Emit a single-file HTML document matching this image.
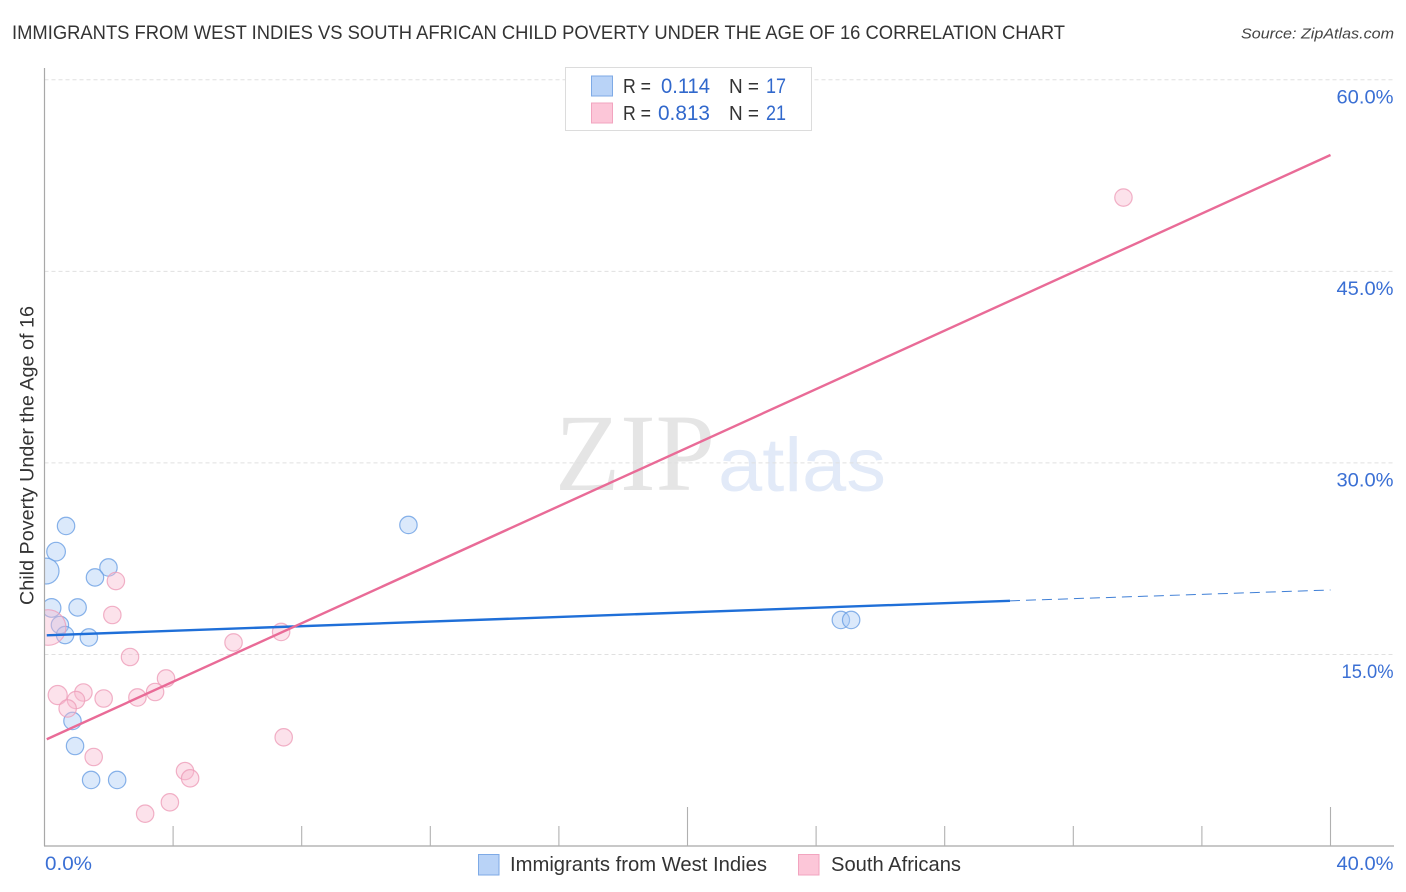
<!DOCTYPE html>
<html lang="en">
<head>
<meta charset="utf-8">
<title>Immigrants from West Indies vs South African Child Poverty Correlation Chart</title>
<style>
html,body{margin:0;padding:0;background:#fff;width:1406px;height:892px;overflow:hidden}
svg{display:block;font-family:"Liberation Sans",sans-serif}
</style>
</head>
<body>
<svg id="chart" width="1406" height="892" viewBox="0 0 1406 892" xmlns="http://www.w3.org/2000/svg">
  <rect width="1406" height="892" fill="#fff"/>
  <text x="12" y="39" font-size="19.5" fill="#333" textLength="1053" lengthAdjust="spacingAndGlyphs">IMMIGRANTS FROM WEST INDIES VS SOUTH AFRICAN CHILD POVERTY UNDER THE AGE OF 16 CORRELATION CHART</text>
  <text x="1394" y="38.5" font-size="15" font-style="italic" fill="#444" text-anchor="end" textLength="153" lengthAdjust="spacingAndGlyphs">Source: ZipAtlas.com</text>

  <g>
    <text x="555" y="490" font-family="'Liberation Serif',serif" font-size="110" fill="#e5e5e5" textLength="160" lengthAdjust="spacingAndGlyphs">ZIP</text>
    <text x="718" y="491" font-size="76" fill="#e2eaf8" textLength="168" lengthAdjust="spacingAndGlyphs">atlas</text>
  </g>

  <g id="grid"></g>
  <g id="points-blue"></g>
  <g id="points-pink"></g>
  <rect x="0" y="60" width="44.5" height="786" fill="#fff"/>
  <g id="axes"></g>
  <g id="trends"></g>

  <text transform="translate(33.5 605) rotate(-90)" font-size="19" fill="#333" textLength="299" lengthAdjust="spacingAndGlyphs">Child Poverty Under the Age of 16</text>

  <g>
    <rect x="565.5" y="67.5" width="246" height="63" fill="#fff" stroke="#dcdcdc"/>
    <rect x="591.5" y="76" width="21" height="20" fill="#b9d3f7" stroke="#7eaae6"/>
    <rect x="591.5" y="103" width="21" height="20" fill="#fcc6d8" stroke="#f2a4bf"/>
    <text x="623" y="93" font-size="20" fill="#333" textLength="28" lengthAdjust="spacingAndGlyphs">R =</text>
    <text x="661" y="93" font-size="21.5" fill="#3168cc" textLength="49" lengthAdjust="spacingAndGlyphs">0.114</text>
    <text x="729" y="93" font-size="20" fill="#333" textLength="30" lengthAdjust="spacingAndGlyphs">N =</text>
    <text x="766" y="93" font-size="21.5" fill="#3168cc" textLength="20" lengthAdjust="spacingAndGlyphs">17</text>
    <text x="623" y="120" font-size="20" fill="#333" textLength="28" lengthAdjust="spacingAndGlyphs">R =</text>
    <text x="658" y="120" font-size="21.5" fill="#3168cc" textLength="52" lengthAdjust="spacingAndGlyphs">0.813</text>
    <text x="729" y="120" font-size="20" fill="#333" textLength="30" lengthAdjust="spacingAndGlyphs">N =</text>
    <text x="766" y="120" font-size="21.5" fill="#3168cc" textLength="20" lengthAdjust="spacingAndGlyphs">21</text>
  </g>

  <g>
    <rect x="478.5" y="854.5" width="20.5" height="20.5" fill="#b9d3f7" stroke="#7eaae6"/>
    <text x="510" y="871" font-size="20" fill="#333" textLength="257" lengthAdjust="spacingAndGlyphs">Immigrants from West Indies</text>
    <rect x="798.5" y="854.5" width="20.5" height="20.5" fill="#fcc6d8" stroke="#f2a4bf"/>
    <text x="831" y="871" font-size="20" fill="#333" textLength="130" lengthAdjust="spacingAndGlyphs">South Africans</text>
  </g>
</svg>
<script>
const yTickValues = [15, 30, 45, 60];
const yTickLabels = ["15.0%", "30.0%", "45.0%", "60.0%"];
const xTickValues = [4, 8, 12, 16, 20, 24, 28, 32, 36, 40];
const xMajorTicks = [20, 40];
const xEndValues = [0, 40];
const xEndLabels = ["0.0%", "40.0%"];

const blueX = [0.67, 0.36, 0.05, 1.99, 1.57, 1.03, 0.22, 0.48, 0.64, 1.38, 0.87, 0.95, 1.45, 2.26, 11.32, 24.77, 25.09];
const blueY = [25.06, 23.05, 21.53, 21.81, 21.03, 18.68, 18.64, 17.31, 16.52, 16.33, 9.79, 7.83, 5.17, 5.17, 25.14, 17.70, 17.70];
const blueWeight = [1, 1.15, 2.2, 1, 1, 1, 1.15, 1, 1, 1, 1, 1, 1, 1, 1, 1, 1];

const pinkX = [2.22, 2.11, 0.11, 5.88, 7.36, 2.66, 3.78, 1.21, 0.41, 0.98, 0.72, 1.84, 2.89, 3.44, 7.44, 1.53, 4.37, 4.53, 3.90, 3.13, 33.56];
const pinkY = [20.75, 18.09, 17.11, 15.94, 16.76, 14.80, 13.12, 12.02, 11.82, 11.43, 10.77, 11.55, 11.63, 12.06, 8.51, 6.97, 5.87, 5.30, 3.42, 2.53, 50.78];
const pinkWeight = [1, 1, 4.2, 1, 1, 1, 1, 1, 1.2, 1, 1, 1, 1, 1, 1, 1, 1, 1, 1, 1, 1];

const blueTrendX = [0.07, 30.03];
const blueTrendY = [16.5, 19.2];
const blueProjectionX = [30.03, 40];
const blueProjectionY = [19.2, 20.05];
const pinkTrendX = [0.07, 40];
const pinkTrendY = [8.36, 54.11];

const NS = "http://www.w3.org/2000/svg";
const xScale = v => 44.5 + v * 32.15;
const yScale = v => 846 - v * 12.77;
const rScale = w => 8.7 * Math.sqrt(w);
const labelWidth = s => (s.length === 5 ? (s.startsWith("15") ? 52 : 57) : 47);

function make(tag, parent, attrs, text) {
  const el = document.createElementNS(NS, tag);
  for (const k in attrs) el.setAttribute(k, attrs[k]);
  if (text !== undefined) el.textContent = text;
  parent.appendChild(el);
  return el;
}

const grid = document.getElementById("grid");
const axes = document.getElementById("axes");

yTickValues.forEach((v, i) => {
  const line = make("line", grid, {x1: 44.5, x2: 1394, y1: yScale(v), y2: yScale(v), stroke: "#e0e0e0", "stroke-width": 1, "stroke-dasharray": "4 3"});
  
  
  const label = make("text", axes, {x: 1393.5, y: yScale(v) + 23.5, "font-size": 19.5, fill: "#3a6fd4", "text-anchor": "end", textLength: labelWidth(yTickLabels[i]), lengthAdjust: "spacingAndGlyphs"}, yTickLabels[i]);
  
  
});

const yAxisLine = make("line", axes, {x1: 44.5, x2: 44.5, y1: 68, y2: 846, stroke: "#a8a8a8", "stroke-width": 1.2});


const xAxisLine = make("line", axes, {x1: 44, x2: 1394, y1: 846, y2: 846, stroke: "#a8a8a8", "stroke-width": 1.2});



xTickValues.forEach(v => {
  const len = xMajorTicks.includes(v) ? 39 : 20;
  const tick = make("line", axes, {x1: xScale(v), x2: xScale(v), y1: 846 - len, y2: 846, stroke: "#b0b0b0", "stroke-width": 1.1});
  
  
});

xEndValues.forEach((v, i) => {
  const label = make("text", axes, {x: i === 0 ? xScale(v) + 0.5 : 1393.5, y: 870, "font-size": 19.5, fill: "#3a6fd4", "text-anchor": i === 0 ? "start" : "end", textLength: labelWidth(xEndLabels[i]), lengthAdjust: "spacingAndGlyphs"}, xEndLabels[i]);
  
  
});

const blueGroup = document.getElementById("points-blue");
blueX.forEach((x, i) => {
  const c = make("circle", blueGroup, {cx: xScale(x), cy: yScale(blueY[i]), r: rScale(blueWeight[i]), fill: "#a9cbf5", "fill-opacity": 0.42, stroke: "#6a9fe3", "stroke-opacity": 0.8, "stroke-width": 1.2});
  
  
});

const pinkGroup = document.getElementById("points-pink");
pinkX.forEach((x, i) => {
  const c = make("circle", pinkGroup, {cx: xScale(x), cy: yScale(pinkY[i]), r: rScale(pinkWeight[i]), fill: "#f9bbd0", "fill-opacity": 0.42, stroke: "#ee9db9", "stroke-opacity": 0.8, "stroke-width": 1.2});
  
  
});

const trends = document.getElementById("trends");
const blueTrend = make("line", trends, {x1: xScale(blueTrendX[0]), y1: yScale(blueTrendY[0]), x2: xScale(blueTrendX[1]), y2: yScale(blueTrendY[1]), stroke: "#1f6fd8", "stroke-width": 2.4});


const blueProjection = make("line", trends, {x1: xScale(blueProjectionX[0]), y1: yScale(blueProjectionY[0]), x2: xScale(blueProjectionX[1]), y2: yScale(blueProjectionY[1]), stroke: "#3f7fd6", "stroke-width": 1, "stroke-dasharray": "10 6"});


const pinkTrend = make("line", trends, {x1: xScale(pinkTrendX[0]), y1: yScale(pinkTrendY[0]), x2: xScale(pinkTrendX[1]), y2: yScale(pinkTrendY[1]), stroke: "#e96b97", "stroke-width": 2.4});


</script>
</body>
</html>
